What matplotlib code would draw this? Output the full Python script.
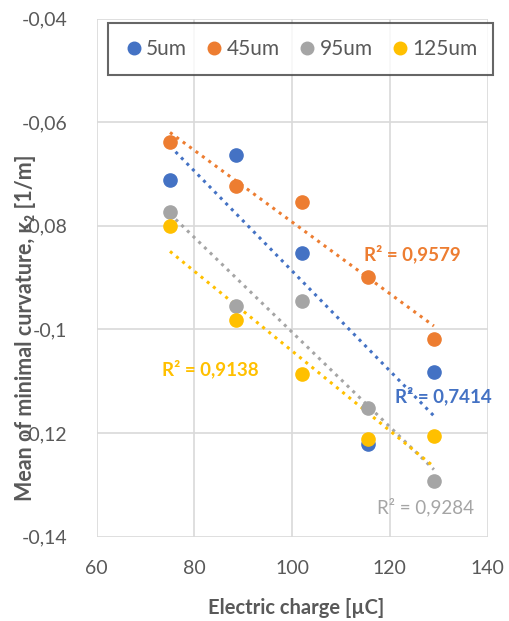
import numpy as np
import matplotlib
matplotlib.use("Agg")
import matplotlib.pyplot as plt

plt.rcParams['font.family'] = ['Lato', 'DejaVu Sans']

# data
charge = [75, 88.5, 102, 115.5, 129]
series_names = ['5um', '45um', '95um', '125um']
k_5um = [-0.0711, -0.0664, -0.0853, -0.1222, -0.1083]
k_45um = [-0.0638, -0.0724, -0.0755, -0.0898, -0.1018]
k_95um = [-0.0774, -0.0955, -0.0946, -0.1151, -0.1293]
k_125um = [-0.0801, -0.0981, -0.1087, -0.1212, -0.1205]
r2_labels = ['R² = 0,7414', 'R² = 0,9579', 'R² = 0,9284', 'R² = 0,9138']
r2_pos = [(121.0, -0.1129), (114.6, -0.0854), (117.4, -0.1344), (73.3, -0.1076)]
r2_weight = ['bold', 'bold', 'normal', 'bold']

colors = ['#4472C4', '#ED7D31', '#A5A5A5', '#FFC000']
all_series = [k_5um, k_45um, k_95um, k_125um]

fig = plt.figure(figsize=(5.09, 6.21), dpi=100)
ax = fig.add_axes([0.190, 0.136, 0.768, 0.834])

x = np.array(charge)
for name, ys, c in zip(series_names, all_series, colors):
    ax.plot(x, ys, 'o', color=c, markersize=9.5, label=name, zorder=3)
    k, b = np.polyfit(x, ys, 1)
    ax.plot(x, k * x + b, color=c, linestyle=(0, (1, 1.6)), linewidth=2.2, zorder=2)

for lab, pos, c, w in zip(r2_labels, r2_pos, colors, r2_weight):
    ax.text(pos[0], pos[1], lab, color=c, fontsize=13.5, fontweight=w,
            ha='left', va='center', zorder=4)

ax.set_xlim(60, 140)
ax.set_ylim(-0.14, -0.04)
ax.set_xticks([60, 80, 100, 120, 140])
ax.set_yticks([-0.14, -0.12, -0.1, -0.08, -0.06, -0.04])
ax.set_yticklabels(['-0,14', '-0,12', '-0,1', '-0,08', '-0,06', '-0,04'])
ax.tick_params(length=0, labelsize=14, colors='#595959')
ax.tick_params(axis='y', pad=21)
ax.tick_params(axis='x', pad=17)
ax.grid(True, color='#d9d9d9', linewidth=1.2)
ax.set_axisbelow(True)
for s in ax.spines.values():
    s.set_visible(False)

ax.set_xlabel('Electric charge [µC]', fontsize=14.5, fontweight='bold', color='#595959')
ax.xaxis.set_label_coords(0.51, -0.118)
fig.text(26 / 509, 1 - 328 / 621, 'Mean of minimal curvature, κ₂ [1/m]', rotation=90,
         ha='center', va='center', fontsize=15.5, fontweight='bold', color='#595959')

leg = fig.legend(loc='center', bbox_to_anchor=(0.590, 0.921), ncol=4, frameon=True,
                 fancybox=False, edgecolor='#404040', fontsize=15, handletextpad=0.1,
                 columnspacing=0.8, handlelength=1.0, borderpad=0.75, markerscale=0.95)
leg.get_frame().set_linewidth(1.5)
for t in leg.get_texts():
    t.set_color('#595959')

fig.savefig('out.png', dpi=100)
